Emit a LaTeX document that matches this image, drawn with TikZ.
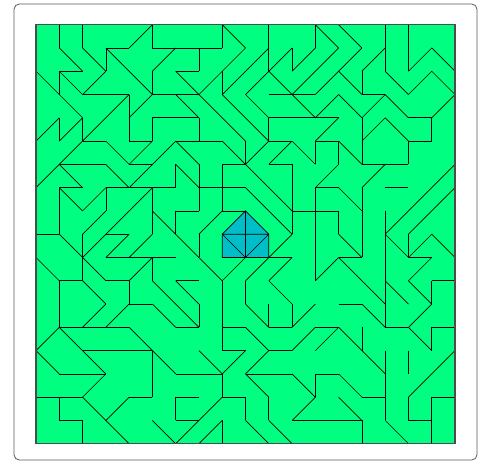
\documentclass[tikz,border=0pt]{standalone}
\usepackage{tikz}
\definecolor{tilegreen}{RGB}{0,255,128}
\definecolor{tileblue}{RGB}{0,190,200}
\begin{document}
\begin{tikzpicture}[x=0.75pt,y=-0.75pt]
\useasboundingbox (0,0) rectangle (482,463);
\draw[gray!70!black,line width=0.6pt,rounded corners=4pt] (14,4) rectangle (477,460);
\begin{scope}[x=17.46pt,y=-17.46pt,shift={(1.5464,1.0610)}]
\fill[tilegreen] (0,0) rectangle (18,18);
\fill[tileblue] (8,9) -- (9,8) -- (10,9) -- (10,10) -- (8,10) -- cycle;
\draw[black,line width=0.5pt] (8,9) -- (9,8) -- (10,9) -- (10,10) -- (8,10) -- cycle;
\draw[black,line width=0.5pt] (9,8) -- (9,10) (8,9) -- (10,9) (8,9) -- (9,10) -- (10,9);
\foreach \a/\b/\c/\d in {
1/0/1/1, 2/0/2/1, 3/1/4/1, 4/1/5/0, 3/1/3/2, 5/0/5/1, 5/1/8/1, 8/0/8/1, 8/0/9/1,
1/1/2/2, 2/1/3/2, 3/1/5/3, 6/1/5/2, 7/1/7/2, 6/2/7/2, 9/1/7/3, 10/1/8/3,
1/2/2/2, 1/2/1/3, 0/2/2/4, 1/2/2/3, 2/3/3/2, 2/3/4/3, 5/2/5/3, 6/2/7/3, 8/2/8/3,
5/3/7/3, 7/3/9/5, 8/3/10/5, 4/3/4/5, 4/3/2/5, 5/3/4/4, 6/3/7/4, 5/4/7/4, 5/4/5/5, 7/4/7/5,
0/5/1/4, 1/4/1/5, 1/5/2/4, 2/4/2/5, 2/5/3/5, 4/5/5/5, 6/5/8/5, 3/5/4/6, 4/6/5/5, 1/6/2/5,
6/5/7/6, 4/7/6/5, 8/5/9/6, 9/5/9/6, 9/6/10/5, 1/6/3/6, 4/6/5/6, 8/6/9/6,
0/7/1/6, 1/6/2/7, 3/6/4/7, 6/6/6/7, 6/6/7/7, 7/6/7/7, 1/7/2/7, 3/7/6/7, 7/7/9/7,
1/7/1/9, 1/7/2/8, 2/8/3/7, 3/7/3/8, 5/7/2/10, 5/7/5/9, 3/8/2/9, 5/8/8/11, 6/8/6/9,
6/8/7/8, 7/7/7/8, 8/6/8/8, 7/9/8/8, 8/8/9/8, 7/9/7/10, 9/6/11/8, 9/7/11/9,
0/9/1/9, 1/9/2/10, 2/9/2/11, 3/9/4/9, 4/9/3/10, 5/9/4/10, 3/10/6/10,
8/11/9/10, 8/11/8/12, 0/10/1/11, 1/11/2/11, 2/10/3/11, 3/11/4/11, 4/11/5/10, 5/10/5/11,
5/11/7/13, 6/11/7/11, 6/11/7/12, 7/12/7/13, 1/11/1/13, 2/11/3/12, 3/12/2/13,
4/11/4/12, 4/12/5/12, 4/12/3/13, 1/13/4/13, 1/13/0/14, 0/14/1/15, 1/13/3/15, 1/15/3/15,
2/14/5/14, 4/13/6/15, 5/12/6/13, 6/13/7/13, 7/14/8/15, 6/15/8/15, 5/14/5/16,
3/15/2/16, 0/16/2/16, 2/16/4/18, 1/16/1/17, 1/17/2/17, 2/17/2/18, 3/17/4/16, 4/16/5/16,
5/17/6/18, 6/18/7/17, 6/16/6/17, 6/16/7/16, 6/17/7/17, 7/17/8/16, 7/18/8/17, 8/16/9/16,
8/15/8/16, 8/17/8/18,
10/0/10/2, 10/2/11/1, 11/1/11/2, 11/2/12/1, 12/0/12/1, 12/0/13/1, 13/1/11/3,
13/0/14/1, 14/1/13/2, 13/2/14/3, 13/2/12/3, 14/2/14/3, 14/2/15/1, 15/0/15/2, 14/3/15/3,
16/0/16/2, 16/2/17/1, 17/1/18/2, 15/2/16/3, 16/3/17/2, 17/2/18/3,
10/2/9/3, 9/3/10/4, 10/2/11/3, 10/3/11/3, 11/3/12/3, 11/3/12/4, 12/4/13/3, 13/3/14/4,
14/4/15/3, 15/3/16/4, 16/4/17/4, 17/4/17/5, 16/5/17/5, 14/5/15/4, 15/4/16/5, 14/4/14/6,
10/4/10/5, 10/5/11/5, 10/6/11/5, 11/5/12/6, 12/5/13/4, 12/5/12/6, 13/5/14/6, 17/4/18/3,
10/4/13/4, 12/5/13/5, 13/5/13/6, 15/6/16/6, 16/5/16/6,
10/6/11/6, 11/6/11/8, 11/8/11/9, 10/10/11/9, 10/10/11/10, 11/10/10/11, 10/11/11/12,
9/11/10/10, 9/11/9/12, 11/12/11/13,
12/7/13/6, 12/7/13/7, 13/7/14/8, 14/7/14/8, 14/7/15/6, 15/7/16/7, 14/6/15/6,
12/7/12/8, 11/8/13/8, 14/8/14/10, 13/10/14/10,
18/6/15/9, 18/7/16/9, 15/9/16/10,
16/9/16/10, 16/10/17/10, 16/10/17/9, 17/9/18/10,
12/8/12/11, 13/8/13/9, 13/9/14/10, 12/11/13/10,
13/10/15/12, 15/8/15/13, 17/10/16/11, 16/11/17/12, 17/11/18/11, 17/11/17/12, 15/11/16/12,
8/12/8/14, 9/12/10/13, 10/12/10/13, 10/13/11/13, 11/13/12/12, 8/13/9/13, 9/13/10/14,
8/14/9/14, 9/14/8/15, 10/14/11/14, 11/14/12/13, 10/14/9/15, 9/15/11/15,
9/15/10/16, 10/16/10/17, 10/17/11/18, 9/16/9/17, 9/17/10/18, 11/15/12/16, 12/15/12/16,
11/17/12/16, 11/17/12/17,
13/12/14/12, 14/12/15/13, 15/13/16/13, 16/13/17/12, 16/13/17/14, 17/13/18/13,
17/13/17/14, 12/13/13/13, 12/14/13/13, 13/13/14/14, 14/13/14/14, 14/14/15/15, 15/14/15/17,
12/15/13/15, 13/15/14/16, 14/16/15/16, 13/16/14/17, 12/17/14/17, 14/17/14/18, 15/17/16/18,
16/14/16/15, 17/15/18/14, 16/16/17/15, 16/16/16/17, 16/17/17/17, 17/16/18/16, 17/16/17/18}
{\draw[black,line width=0.5pt] (\a,\b) -- (\c,\d);}
\draw[gray!60!black,line width=0.9pt] (0,0) rectangle (18,18);
\end{scope}
\end{tikzpicture}
\end{document}
